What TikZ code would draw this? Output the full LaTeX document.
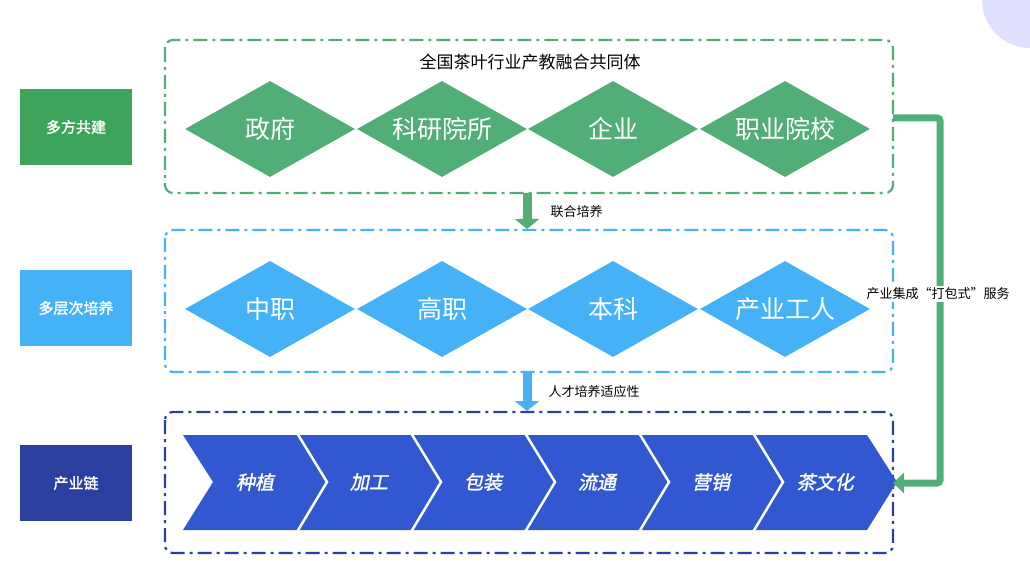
\documentclass[tikz,border=0pt]{standalone}
\usepackage{fontspec}
\setmainfont{Noto Sans CJK SC}
\newfontfamily\cjkit[FakeSlant=0.2,FakeBold=1.5]{Noto Sans CJK SC}
\newfontfamily\cjkb[FakeBold=1.5]{Noto Sans CJK SC}
\usetikzlibrary{shapes.geometric,arrows.meta}
\definecolor{gA}{HTML}{52AE77}
\definecolor{gL}{HTML}{3DA45B}
\definecolor{bA}{HTML}{45B2F7}
\definecolor{dB}{HTML}{2A3FA0}
\definecolor{cB}{HTML}{3158D0}
\tikzset{
 lab/.style={minimum width=112pt,minimum height=76pt,inner sep=0,text=white,font=\cjkb\fontsize{15}{15}\selectfont},
 frame/.style={rounded corners=8pt,line width=2.2pt,dash pattern=on 14pt off 5pt on 3pt off 5pt},
 dia/.style={diamond,aspect=1.77,minimum width=170pt,minimum height=96pt,inner sep=0,text=white,font=\fontsize{25}{25}\selectfont},
 ctext/.style={text=white,font=\cjkit\fontsize{19}{19}\selectfont},
 fat/.style={-{Triangle[length=10pt,width=24pt]},line width=9pt},
 small/.style={font=\fontsize{13}{13}\selectfont}
}
\begin{document}
\begin{tikzpicture}[x=1pt,y=-1pt]
\useasboundingbox (0,0) rectangle (1030,561);
\fill[blue!12] (1030,0) circle (48);
\node[lab,fill=gL] (l1) at (76,127) {多方共建};
\node[lab,fill=bA] (l2) at (76,308) {多层次培养};
\node[lab,fill=dB] (l3) at (76,483) {产业链};
\draw[frame,draw=gA] (165,40) rectangle (893,193);
\draw[frame,draw=bA] (165,230) rectangle (893,372);
\draw[frame,draw=dB] (165,412) rectangle (893,553);
\coordinate (f1r) at (893,118);
\node[font=\fontsize{17}{17}\selectfont] (t1) at (530,62) {全国茶叶行业产教融合共同体};
\foreach \x/\t [count=\i] in {270/政府,442/科研院所,613/企业,785/职业院校}
  \node[dia,fill=gA] (d\i) at (\x,129) {\t};
\foreach \x/\t [count=\i] in {270/中职,442/高职,613/本科,785/产业工人}
  \node[dia,fill=bA] (e\i) at (\x,309) {\t};
\foreach \i/\t in {0/种植,1/加工,2/包装,3/流通,4/营销,5/茶文化}{
  \pgfmathsetmacro\xa{183+114*\i}
  \pgfmathsetmacro\xb{\xa+114}
  \fill[cB] (\xa,435) -- (\xb,435) -- (\xb+30,482) -- (\xb,530) -- (\xa,530) -- (\xa+30,482) -- cycle;
  \node[ctext] (c\i) at (\xa+72,482) {\t};
}
\foreach \i in {1,...,5}{
  \pgfmathsetmacro\xa{183+114*\i}
  \draw[white,line width=2.5pt] (\xa,433) -- (\xa+30,482) -- (\xa,532);
}
\coordinate (a1s) at (527,193);
\coordinate (a1e) at (527,229);
\coordinate (a2s) at (527,372);
\coordinate (a2e) at (527,411);
\draw[fat,draw=gA,fill=gA] (a1s) -- (a1e);
\draw[fat,draw=bA,fill=bA] (a2s) -- (a2e);
\node[small,anchor=west] (n1) at (547,212) {联合培养};
\node[small,anchor=west] (n2) at (545,392) {人才培养适应性};
\coordinate (f3r) at (893,483);
\draw[gA,line width=7pt,rounded corners=3pt,-{Triangle[length=11pt,width=20pt]}] (f1r) -- (940,118) -- (940,483) -- (f3r);
\node[small,fill=white,inner sep=2pt] (sv) at (938,294) {产业集成“打包式”服务};
\end{tikzpicture}
\end{document}
